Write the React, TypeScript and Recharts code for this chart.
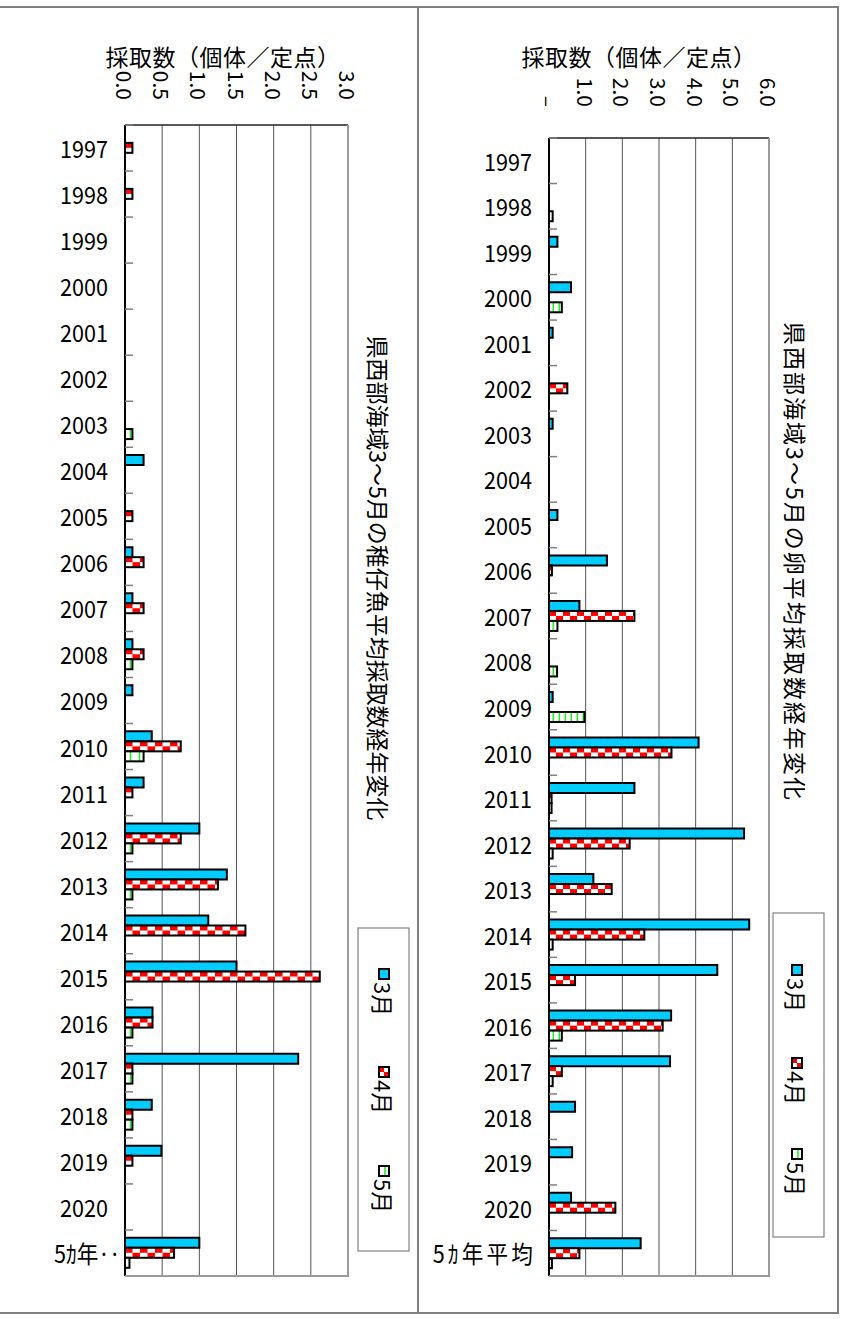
import React from 'react';
import { BarChart, Bar, XAxis, YAxis, CartesianGrid } from 'recharts';

type V = number | null;
const N = null;

const categories = ['1997','1998','1999','2000','2001','2002','2003','2004','2005','2006','2007','2008','2009','2010','2011','2012','2013','2014','2015','2016','2017','2018','2019','2020','5ｶ年平均'];
const seriesNames = ['3月', '4月', '5月'];

// 稚仔魚 (left panel)
const larvaeMarch: V[] = [N,N,N,N,N,N,N,0.25,N,0.1,0.1,0.1,0.1,0.36,0.25,1.0,1.37,1.12,1.5,0.37,2.33,0.36,0.49,N,1.0];
const larvaeApril: V[] = [0.1,0.1,N,N,N,N,N,N,0.1,0.25,0.25,0.25,N,0.75,0.1,0.75,1.25,1.62,2.62,0.37,0.1,0.1,0.1,N,0.66];
const larvaeMay: V[] = [N,N,N,N,N,N,0.1,N,N,N,N,0.1,N,0.25,N,0.1,0.1,N,N,0.1,0.1,0.1,N,N,0.06];

// 卵 (right panel)
const eggMarch: V[] = [N,N,0.23,0.6,0.1,N,0.1,N,0.23,1.58,0.83,N,0.1,4.08,2.33,5.32,1.21,5.46,4.59,3.33,3.3,0.71,0.63,0.6,2.5];
const eggApril: V[] = [N,N,N,N,N,0.5,N,N,N,0.08,2.33,N,N,3.34,0.07,2.2,1.71,2.6,0.71,3.1,0.35,N,N,1.81,0.83];
const eggMay: V[] = [N,0.1,N,0.35,N,N,N,N,N,N,0.23,0.22,0.97,N,0.07,0.1,N,0.1,N,0.35,0.1,N,N,N,0.08];

const leftTicks = [0, 0.5, 1, 1.5, 2, 2.5, 3];
const rightTicks = [0, 1, 2, 3, 4, 5, 6];
const axisLabel = '採取数（個体／定点）';
const leftTitle = '県西部海域3～5月の稚仔魚平均採取数経年変化';
const rightTitle = '県西部海域3～5月の卵平均採取数経年変化';

const PAGE_W = 844;
const PAGE_H = 1319;
const FONT = "'Noto Sans CJK JP', 'Noto Sans', sans-serif";
const CYAN = '#00CCFF';
const RED = '#FF0000';
const GREEN = '#22EE22';

const leftRows = categories.map((c, i) => ({ cat: c, m3: larvaeMarch[i], m4: larvaeApril[i], m5: larvaeMay[i] }));
const rightRows = categories.map((c, i) => ({ cat: c, m3: eggMarch[i], m4: eggApril[i], m5: eggMay[i] }));

function checker(x: number, y: number, w: number, h: number, cell: number, key?: string) {
  const rh = h / 2;
  const cells: React.ReactNode[] = [];
  for (let r = 0; r < 2; r++) {
    let i = 0;
    for (let cx = 0; cx < w - 0.01; cx += cell, i++) {
      if ((i + r) % 2 === 0) {
        cells.push(<rect key={`${r}-${i}`} x={x + cx} y={y + r * rh} width={Math.min(cell, w - cx)} height={rh} fill={RED} />);
      }
    }
  }
  return (
    <g key={key}>
      <rect x={x} y={y} width={w} height={h} fill="#fff" />
      {cells}
      <rect x={x} y={y} width={w} height={h} fill="none" stroke="#000" strokeWidth={2} />
    </g>
  );
}

function stripes(x: number, y: number, w: number, h: number, period: number, first: number, key?: string) {
  const lines: React.ReactNode[] = [];
  let k = 0;
  for (let lx = first; lx < w - 1; lx += period, k++) {
    lines.push(<line key={k} x1={x + lx} x2={x + lx} y1={y} y2={y + h} stroke={GREEN} strokeWidth={1.6} />);
  }
  return (
    <g key={key}>
      <rect x={x} y={y} width={w} height={h} fill="#fff" />
      {lines}
      <rect x={x} y={y} width={w} height={h} fill="none" stroke="#000" strokeWidth={2} />
    </g>
  );
}

const ValTick = (p: any) => {
  const { x, y, payload, fmt } = p;
  return (
    <text x={x} y={y} transform={`rotate(90 ${x} ${y})`} textAnchor="end" dominantBaseline="central"
      fontSize={21} fontFamily={FONT} fill="#000">{fmt(payload.value)}</text>
  );
};

const CatTick = (p: any) => {
  const { x, y, payload, band, short } = p;
  const ax = x + 17;
  const label = String(payload.value);
  const isYear = /^\d+$/.test(label);
  let text = label;
  let tx = x;
  let ls = 0;
  if (!isYear) {
    if (short) { text = label.slice(0, 3) + '‥'; tx = x + 12; }
    else { ls = 3.5; tx = x + 4; }
  }
  return (
    <g>
      <line x1={ax} x2={ax + 8} y1={y - band / 2} y2={y - band / 2} stroke="#808080" strokeWidth={1.5} />
      <text x={0} y={0} transform={`translate(${tx} ${y}) scale(0.9 1)`} textAnchor="end" dominantBaseline="central" fontSize={24}
        letterSpacing={ls} fontFamily={FONT} fill="#000">{text}</text>
    </g>
  );
};

type Cfg = {
  left: number; width: number; plotL: number; plotR: number; plotT: number; plotB: number;
  rows: any[]; max: number; ticks: number[]; fmt: (v: number) => string; tickGap: number; short: boolean;
  cell: number; period: number; first: number;
};

const fmtLeft = (v: number) => v.toFixed(1);
const fmtRight = (v: number) => (v === 0 ? '–' : v.toFixed(1));

const leftCfg: Cfg = { left: 0, width: 420, plotL: 125, plotR: 348, plotT: 125, plotB: 1276, rows: leftRows, max: 3, ticks: leftTicks, fmt: fmtLeft, tickGap: 25, short: true, cell: 7.5, period: 9, first: 5.5 };
const rightCfg: Cfg = { left: 420, width: 418, plotL: 549, plotR: 769, plotT: 138, plotB: 1276, rows: rightRows, max: 6, ticks: rightTicks, fmt: fmtRight, tickGap: 31, short: false, cell: 7, period: 6, first: 4.3 };

function Panel({ cfg }: { cfg: Cfg }) {
  const band = (cfg.plotB - cfg.plotT) / cfg.rows.length;
  const checkerShape = (p: any) => (p.width > 0 ? checker(p.x, p.y, p.width, p.height, cfg.cell) : <g />);
  const stripeShape = (p: any) => (p.width > 0 ? stripes(p.x, p.y, p.width, p.height, cfg.period, cfg.first) : <g />);
  return (
    <div style={{ position: 'absolute', left: cfg.left, top: 0 }}>
      <BarChart
        layout="vertical"
        width={cfg.width}
        height={PAGE_H}
        data={cfg.rows}
        margin={{ top: cfg.plotT - 30, right: cfg.left + cfg.width - cfg.plotR, bottom: PAGE_H - cfg.plotB, left: 0 }}
        barCategoryGap="17%"
        barGap={0}
      >
        <CartesianGrid horizontal={false} stroke="#555" strokeWidth={1} />
        <XAxis
          type="number"
          orientation="top"
          domain={[0, cfg.max]}
          ticks={cfg.ticks}
          interval={0}
          height={30}
          tickSize={0}
          tickMargin={cfg.tickGap}
          tickLine={false}
          axisLine={{ stroke: '#222', strokeWidth: 1.5 }}
          allowDataOverflow
          tick={(p: any) => <ValTick {...p} fmt={cfg.fmt} />}
        />
        <YAxis
          type="category"
          dataKey="cat"
          width={cfg.plotL - cfg.left}
          interval={0}
          tickSize={0}
          tickMargin={17}
          tickLine={false}
          axisLine={{ stroke: '#000', strokeWidth: 2 }}
          tick={(p: any) => <CatTick {...p} band={band} short={cfg.short} />}
        />
        <Bar dataKey="m3" name={seriesNames[0]} fill={CYAN} stroke="#000" strokeWidth={2} isAnimationActive={false} />
        <Bar dataKey="m4" name={seriesNames[1]} fill={RED} shape={checkerShape} isAnimationActive={false} />
        <Bar dataKey="m5" name={seriesNames[2]} fill={GREEN} shape={stripeShape} isAnimationActive={false} />
      </BarChart>
    </div>
  );
}

function LegendBox({ x, y, w, h, cx, items }: { x: number; y: number; w: number; h: number; cx: number; items: number[] }) {
  const s = 10;
  return (
    <g>
      <rect x={x} y={y} width={w} height={h} fill="#fff" stroke="#808080" strokeWidth={1.2} />
      {items.map((iy, i) => (
        <g key={i}>
          {i === 0 && <rect x={cx - s / 2} y={iy - s / 2} width={s} height={s} fill={CYAN} stroke="#000" strokeWidth={2} />}
          {i === 1 && checker(cx - s / 2, iy - s / 2, s, s, s / 2)}
          {i === 2 && stripes(cx - s / 2, iy - s / 2, s, s, 20, 6)}
          <text x={cx} y={iy + s / 2 + 3} transform={`rotate(90 ${cx} ${iy + s / 2 + 3})`} textAnchor="start"
            dominantBaseline="central" fontSize={22} fontFamily={FONT} fill="#000">{seriesNames[i]}</text>
        </g>
      ))}
    </g>
  );
}

function Overlay() {
  const frame = '#808080';
  const plotBorders = [leftCfg, rightCfg].map((c, i) => (
    <g key={i}>
      <line x1={c.plotR} x2={c.plotR} y1={c.plotT} y2={c.plotB} stroke="#9a9a9a" strokeWidth={2} />
      <line x1={c.plotL} x2={c.plotR + 1} y1={c.plotB} y2={c.plotB} stroke="#9a9a9a" strokeWidth={2} />
    </g>
  ));
  return (
    <svg width={PAGE_W} height={PAGE_H} style={{ position: 'absolute', left: 0, top: 0, pointerEvents: 'none' }}>
      <line x1={0} x2={839} y1={7} y2={7} stroke={frame} strokeWidth={2} />
      <line x1={0} x2={839} y1={1313} y2={1313} stroke={frame} strokeWidth={2} />
      <line x1={418} x2={418} y1={7} y2={1313} stroke={frame} strokeWidth={2} />
      <line x1={838} x2={838} y1={7} y2={1313} stroke={frame} strokeWidth={2} />
      {plotBorders}
      <text x={223} y={56} textAnchor="middle" dominantBaseline="central" fontSize={23} letterSpacing={0.5} fontFamily={FONT} fill="#000">{axisLabel}</text>
      <text x={639} y={56} textAnchor="middle" dominantBaseline="central" fontSize={23} letterSpacing={0.5} fontFamily={FONT} fill="#000">{axisLabel}</text>
      <text x={379} y={578} transform="rotate(90 379 578)" textAnchor="middle" dominantBaseline="central"
        fontSize={23} fontFamily={FONT} fill="#000" textLength={485} lengthAdjust="spacing">{leftTitle}</text>
      <text x={796} y={561} transform="rotate(90 796 561)" textAnchor="middle" dominantBaseline="central"
        fontSize={23} fontFamily={FONT} fill="#000" textLength={478} lengthAdjust="spacing">{rightTitle}</text>
      <LegendBox x={358} y={928} w={51} h={323} cx={384} items={[974, 1072, 1171]} />
      <LegendBox x={773} y={913} w={51} h={324} cx={797} items={[970, 1063, 1154]} />
    </svg>
  );
}

export default function App() {
  return (
    <div style={{ position: 'absolute', left: 0, top: 0, width: PAGE_W, height: PAGE_H, background: '#fff', fontFamily: FONT }}>
      <Panel cfg={leftCfg} />
      <Panel cfg={rightCfg} />
      <Overlay />
    </div>
  );
}
